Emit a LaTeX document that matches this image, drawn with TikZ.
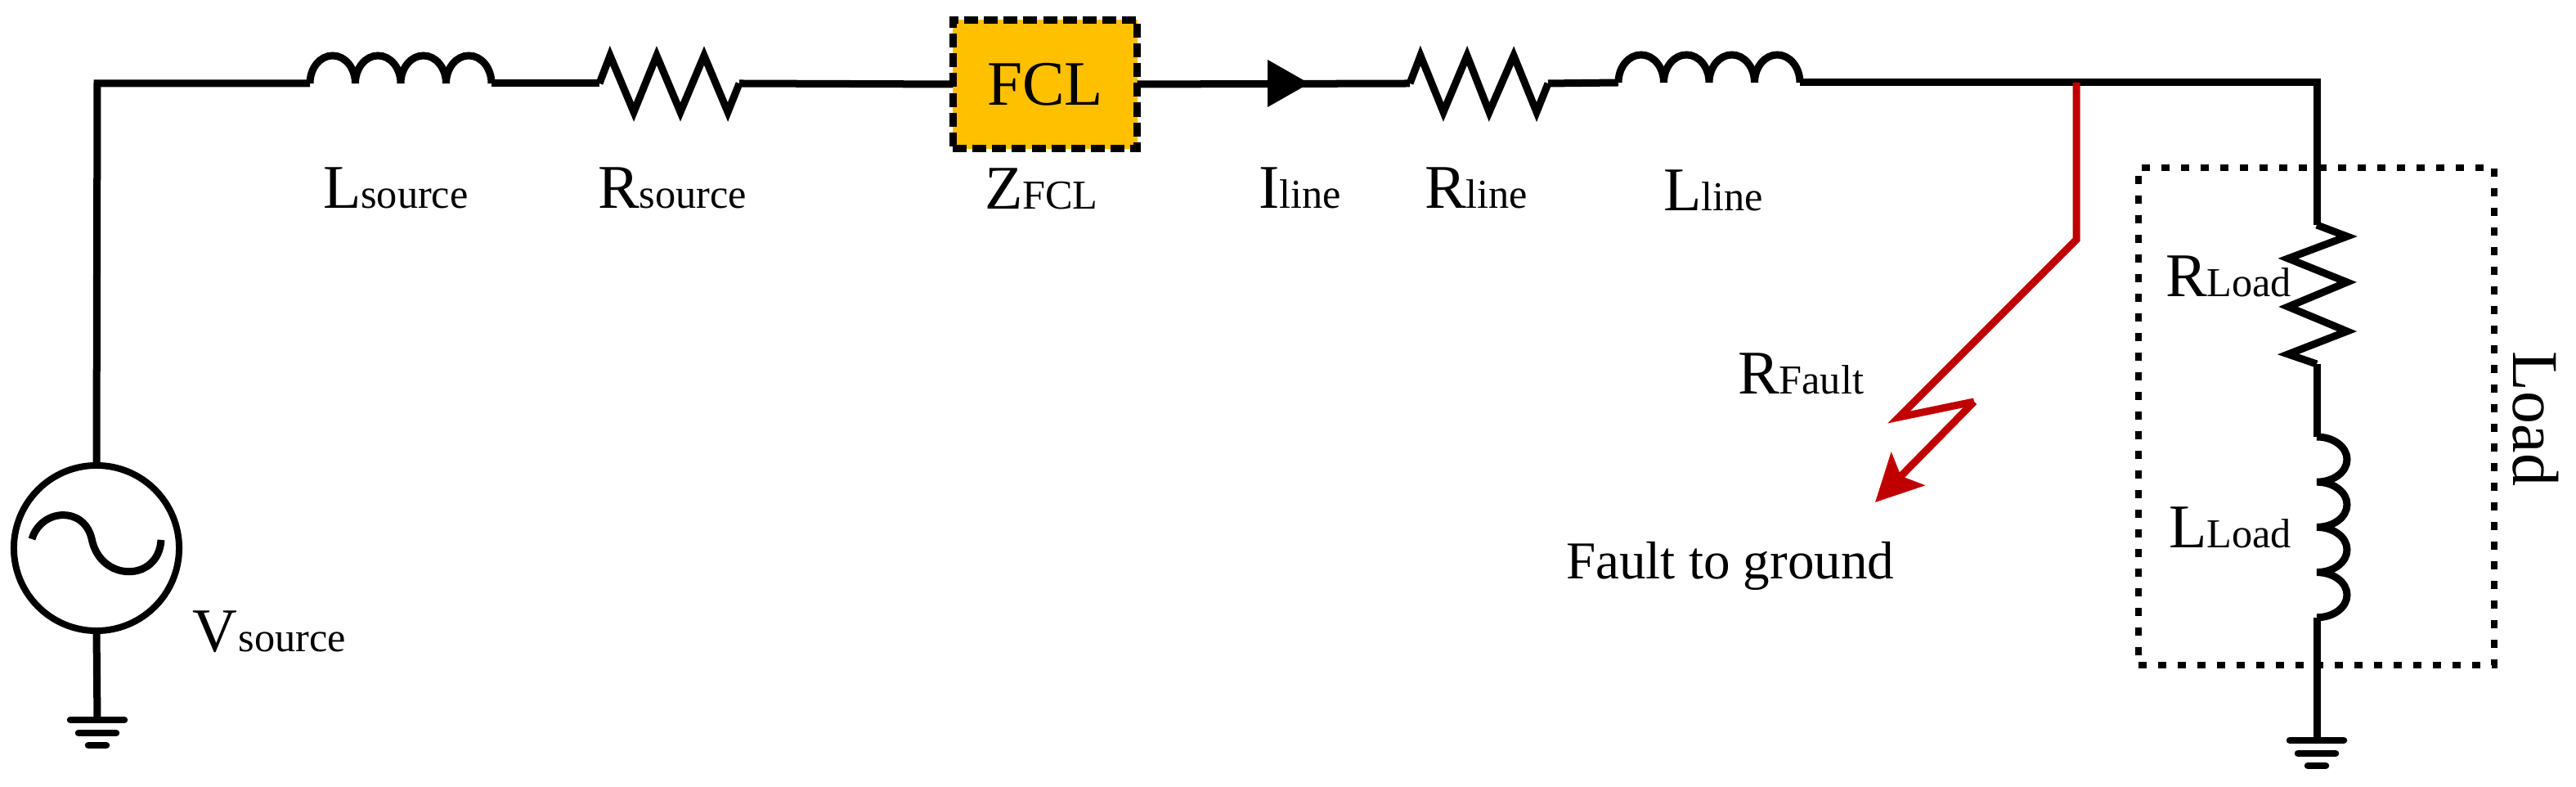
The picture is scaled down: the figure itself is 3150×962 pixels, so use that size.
\documentclass[tikz,border=0pt]{standalone}
\usepackage{fontspec}
\setmainfont{Liberation Serif}
\usetikzlibrary{arrows.meta, calc}

\definecolor{fclfill}{HTML}{FFC000}
\definecolor{faultred}{HTML}{C00000}

\newcommand{\biglabel}[2]{{\fontsize{21.6}{24}\selectfont #1}{\fontsize{14.3}{16}\selectfont #2}}

\tikzset{
    wire/.style={line width=0.09cm, black},
    faultwire/.style={line width=0.09cm, faultred, miter limit=20},
    gndbar/.style={line width=0.085cm, line cap=round},
    lbl/.style={anchor=base west, inner sep=0pt, outer sep=0pt},
}

\begin{document}
\begin{tikzpicture}[x=0.01cm, y=-0.01cm]
    \useasboundingbox (0,0) rectangle (3150,962);

    % Terminals
    \coordinate (corner) at (119,102);
    \coordinate (lsrcin) at (379,102);
    \coordinate (lsrcout) at (601,102);
    \coordinate (rsrcin) at (733,102);
    \coordinate (rsrcout) at (904,102);
    \coordinate (ilinetail) at (1550,102);
    \coordinate (ilinetip) at (1601,102);
    \coordinate (rlinein) at (1724,102);
    \coordinate (rlineout) at (1893,102);
    \coordinate (llinein) at (1979,101);
    \coordinate (llineout) at (2201,101);
    \coordinate (tap) at (2539,101);
    \coordinate (topright) at (2833,101);
    \coordinate (rloadin) at (2833,275);
    \coordinate (rloadout) at (2833,445);
    \coordinate (lloadin) at (2833,534);
    \coordinate (lloadout) at (2833,755);
    \coordinate (gndsrc) at (119,880);
    \coordinate (gndload) at (2833,905);

    % Load box
    \node[draw, line width=0.085cm, dash pattern=on 0.1cm off 0.14cm, minimum width=4.35cm, minimum height=6.08cm, outer sep=0pt, inner sep=0pt] (loadbox) at (2832.5,509) {};

    % Source
    \node[draw, circle, line width=0.08cm, minimum size=2.02cm, outer sep=0pt, inner sep=0pt] (vsrc) at (118,670) {};
    \coordinate (sinea) at (39,659);
    \coordinate (sineb) at (112,658);
    \coordinate (sinec) at (197,660);
    \draw[wire] (sinea) .. controls (50,622) and (102,618) .. (sineb)
        .. controls (122,712) and (194,712) .. (sinec);

    % FCL
    \node[draw, fill=fclfill, line width=0.085cm, dash pattern=on 0.17cm off 0.07cm, minimum width=2.25cm, minimum height=1.57cm, outer sep=0pt, inner sep=0pt] (fcl) at (1278,103) {\fontsize{22}{24}\selectfont FCL};

    % Top line
    \draw[wire, line join=miter] (vsrc.north) -- (corner) -- (lsrcin);
    \draw[wire] (lsrcout) -- (rsrcin);
    \draw[wire] (rsrcout) -- (fcl.west);
    \draw[wire] (fcl.east) -- (rlinein);
    \draw[wire] (rlineout) -- (llinein);
    \draw[wire, line join=miter] (llineout) -- (topright) -- (rloadin);
    \draw[wire] (rloadout) -- (lloadin);
    \draw[wire] (lloadout) -- (gndload);
    \draw[wire] (vsrc.south) -- (gndsrc);

    % Current arrow
    \fill (1550,73) -- (ilinetip) -- (1550,131) -- cycle;

    % Inductors
    \draw[wire] (lsrcin) foreach \i in {1,2,3,4} {arc[start angle=180, end angle=360, x radius=27.75, y radius=34]};
    \draw[wire] (llinein) foreach \i in {1,2,3,4} {arc[start angle=180, end angle=360, x radius=27.75, y radius=34]};
    \draw[wire] (lloadin) foreach \i in {1,2,3,4} {arc[start angle=-90, end angle=90, x radius=37, y radius=27.6]};

    % Resistors
    \draw[wire] (rsrcin) -- (746,68) -- (775,137) -- (803,68) -- (832,137) -- (861,68) -- (890,137) -- (rsrcout);
    \draw[wire] (rlinein) -- (1737,68) -- (1765,137) -- (1794,68) -- (1821,137) -- (1851,68) -- (1879,137) -- (rlineout);
    \draw[wire] (rloadin) -- (2870,289) -- (2798,316) -- (2870,345) -- (2798,375) -- (2870,405) -- (2798,433) -- (rloadout);

    % Fault path
    \coordinate (fltbend) at (2539,293);
    \coordinate (fltzag) at (2322,510);
    \coordinate (fltzig) at (2414,491);
    \coordinate (flttip) at (2293,614);
    \draw[faultwire] (tap) -- (fltbend) -- (fltzag) -- (fltzig);
    \draw[faultwire, -{Stealth[length=0.57cm, width=0.57cm, inset=0.12cm]}] (fltzig) -- (flttip);

    % Grounds
    \foreach \g in {gndsrc, gndload} {
        \draw[gndbar] ($(\g)+(-33,0)$) -- ($(\g)+(33,0)$);
        \draw[gndbar] ($(\g)+(-23,16)$) -- ($(\g)+(23,16)$);
        \draw[gndbar] ($(\g)+(-11,31)$) -- ($(\g)+(11,31)$);
    }

    % Labels
    \node[lbl] (tlsrc) at (395,255) {\biglabel{L}{source}};
    \node[lbl] (trsrc) at (731,255) {\biglabel{R}{source}};
    \node[lbl] (tzfcl) at (1204,256) {\biglabel{Z}{FCL}};
    \node[lbl] (tiline) at (1539,255) {\biglabel{I}{line}};
    \node[lbl] (trline) at (1742,255) {\biglabel{R}{line}};
    \node[lbl] (tlline) at (2034,258) {\biglabel{L}{line}};
    \node[lbl] (trfault) at (2125,482) {\biglabel{R}{Fault}};
    \node[lbl] (trload) at (2648,363) {\biglabel{R}{Load}};
    \node[lbl] (tlload) at (2652,670) {\biglabel{L}{Load}};
    \node[lbl] (tvsrc) at (235,797) {\biglabel{V}{\hspace{0.02cm}source}};
    \node[lbl] (tfault) at (1915,708) {\fontsize{18.5}{20}\selectfont Fault to ground};
    \node[lbl, rotate=-90] (tload) at (3073,430) {\fontsize{22.7}{24}\selectfont Load};
\end{tikzpicture}
\end{document}
